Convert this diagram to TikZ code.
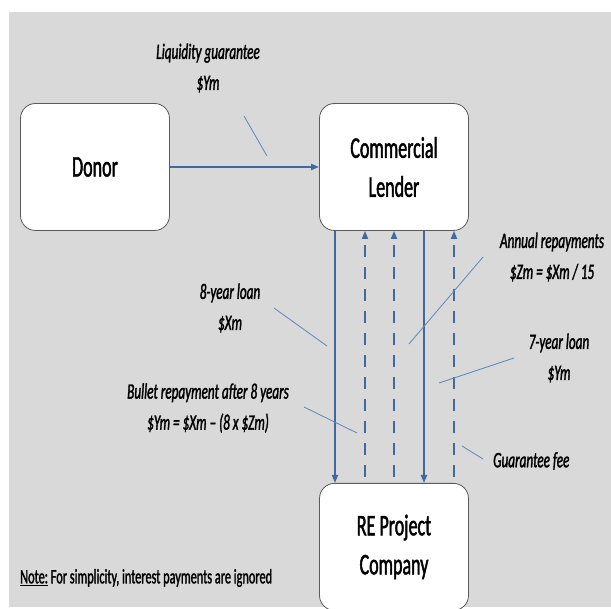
\documentclass[tikz,border=0pt]{standalone}
\usepackage{fontspec}
\setmainfont[FakeStretch=0.6, FakeBold=1.5]{Carlito}
\usetikzlibrary{positioning,arrows.meta}
\definecolor{bgGray}{RGB}{217,217,217}
\definecolor{flowBlue}{RGB}{65,105,160}
\definecolor{leadBlue}{RGB}{95,135,185}
\definecolor{boxEdge}{RGB}{90,90,90}
\tikzset{
    party/.style={rectangle, rounded corners=15pt, draw=boxEdge, thick, fill=white,
                  align=center, font=\fontsize{30}{39}\selectfont,
                  minimum width=149pt, minimum height=127pt},
    remark/.style={align=center, inner sep=0pt, font=\fontsize{22}{31}\selectfont\itshape},
    loan/.style={flowBlue, line width=1.6pt, -{Triangle[length=8pt,width=6pt]}},
    repay/.style={loan, dash pattern=on 12pt off 10pt},
    lead/.style={leadBlue, line width=0.8pt}
}

\begin{document}
\begin{tikzpicture}[x=1pt,y=-1pt]
  \useasboundingbox (0,0) rectangle (611,609);
  \clip (0,0) rectangle (611,609);
  \fill[bgGray] (9,12) rectangle (611,607);

  % Parties
  \node[party] (donor) at (95,167) {Donor};
  \node[party] (lender) at (394,167) {Commercial\\Lender};
  \node[party, anchor=north] (project) at (394,483) {RE Project\\Company};

  % Flows
  \draw[loan, line width=2.4pt] (donor) -- (lender);
  \foreach \dx in {-59,30}
    \draw[loan] ([xshift=\dx pt]lender.south) -- ([xshift=\dx pt]project.north);
  \foreach \dx in {-29,0,60}
    \draw[repay] ([xshift=\dx pt, yshift=6pt]project.north) -- ([xshift=\dx pt]lender.south);

  % Labels
  \node[remark] (liq) at (208,68) {Liquidity guarantee\\\$Ym};
  \node[remark] (loan8) at (230,308) {8-year loan\\\$Xm};
  \node[remark] (bullet) at (208,408) {Bullet repayment after 8 years\\\$Ym = \$Xm -- (8 x \$Zm)};
  \node[remark] (annual) at (552,257) {Annual repayments\\\$Zm = \$Xm / 15};
  \node[remark] (loan7) at (559,358) {7-year loan\\\$Ym};
  \node[remark, anchor=west] (fee) at (493,461) {Guarantee fee};
  \node[anchor=west, inner sep=0pt, font=\fontsize{20.5}{24}\selectfont] (caveat) at (20,578)
    {\underline{Note:} For simplicity, interest payments are ignored};

  % Leader lines
  \coordinate (liqA) at (244,116);   \coordinate (liqB) at (267,156);
  \coordinate (loan8A) at (274,308); \coordinate (loan8B) at (327,346);
  \coordinate (bulletA) at (304,407); \coordinate (bulletB) at (357,433);
  \coordinate (annualA) at (483,257); \coordinate (annualB) at (409,344);
  \coordinate (loan7A) at (514,358); \coordinate (loan7B) at (439,383);
  \coordinate (feeA) at (483,459);   \coordinate (feeB) at (462,446);
  \foreach \t in {liq,loan8,bullet,annual,loan7,fee}
    \draw[lead] (\t A) -- (\t B);
\end{tikzpicture}
\end{document}
